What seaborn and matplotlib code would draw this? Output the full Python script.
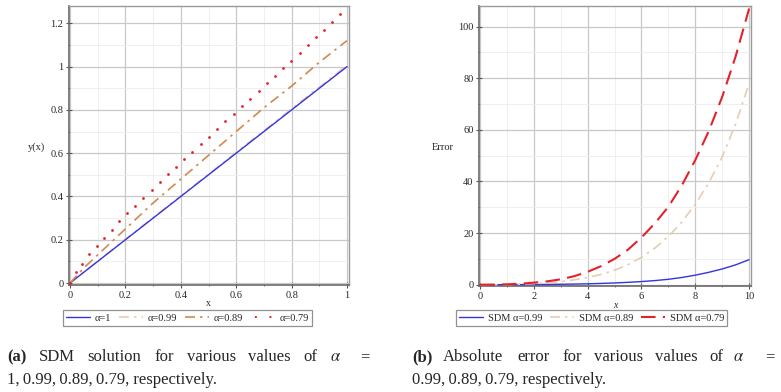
import matplotlib
matplotlib.use('Agg')
import matplotlib.pyplot as plt
from matplotlib.lines import Line2D
from matplotlib.ticker import MultipleLocator, FuncFormatter
import seaborn as sns

# ============================================================
# Data
# ============================================================
# (a) SDM solution y(x)
x_sol = [0, 0.05, 0.1, 0.2, 0.3, 0.4, 0.5, 0.6, 0.7, 0.8, 0.9, 1.0]
y_a100 = [0, 0.05, 0.1, 0.2, 0.3, 0.4, 0.5, 0.6, 0.7, 0.8, 0.9, 1.0]
y_a099 = [0, 0.051, 0.101, 0.202, 0.302, 0.403, 0.503, 0.604, 0.704, 0.805, 0.905, 1.006]
y_a089 = [0, 0.07, 0.13, 0.25, 0.37, 0.48, 0.59, 0.70, 0.81, 0.91, 1.02, 1.12]

x_dots = [0.0, 0.022, 0.044, 0.069, 0.096, 0.124, 0.150, 0.178, 0.207, 0.236, 0.264,
          0.296, 0.325, 0.353, 0.382, 0.412, 0.442, 0.472, 0.502, 0.531, 0.561,
          0.591, 0.620, 0.651, 0.681, 0.710, 0.740, 0.769, 0.799, 0.829, 0.858,
          0.887, 0.917, 0.946, 0.976]
y_a079 = [0.0, 0.051, 0.089, 0.133, 0.171, 0.210, 0.247, 0.287, 0.324, 0.358, 0.395,
          0.429, 0.466, 0.503, 0.537, 0.571, 0.605, 0.642, 0.676, 0.713, 0.747,
          0.781, 0.818, 0.851, 0.888, 0.922, 0.956, 0.992, 1.027, 1.061, 1.098,
          1.135, 1.169, 1.206, 1.243]

# (b) absolute error
x_err = [0, 0.5, 1, 1.5, 2, 2.5, 3, 3.5, 4, 4.5, 5, 5.5, 6, 6.5, 7, 7.5, 8, 8.5, 9, 9.5, 10]
err_099 = [0, 0.0, 0.02, 0.04, 0.07, 0.11, 0.17, 0.25, 0.35, 0.5, 0.68, 0.92, 1.22,
           1.6, 2.1, 2.8, 3.7, 4.8, 6.1, 7.7, 9.7]
err_089 = [0, 0.02, 0.07, 0.2, 0.4, 0.7, 1.2, 1.9, 2.8, 4.0, 5.6, 7.8, 10.6,
           14.2, 18.7, 24.3, 31.2, 39.5, 49.5, 62.3, 78.0]
err_079 = [0, 0.05, 0.15, 0.4, 0.8, 1.3, 2.1, 3.3, 5.0, 7.2, 10.0, 13.6, 18.3,
           23.8, 30.2, 38.5, 48.3, 59.5, 72.8, 88.5, 107.0]

labels_a = ['α=1', 'α=0.99', 'α=0.89', 'α=0.79']
labels_b = ['SDM α=0.99', 'SDM α=0.89', 'SDM α=0.79']

# ============================================================
# Style
# ============================================================
BLUE = '#3434dc'
TAN = '#e6cdb0'
BROWN = '#cf8a4f'
RED = '#e2232b'
DASHDOT = (0, (6, 3, 1.5, 3))
DASHED = (0, (7, 3.5))

sns.set_theme(style='white')
plt.rcParams['font.family'] = ['Liberation Serif', 'DejaVu Serif']
plt.rcParams['mathtext.fontset'] = 'stix'

W, H = 781, 392


def px(x, y):
    return x / W, 1 - y / H


fig = plt.figure(figsize=(W / 100, H / 100), dpi=100)
ax1 = fig.add_axes([69 / W, 1 - 285 / H, 280 / W, 279 / H])
ax2 = fig.add_axes([479 / W, 1 - 286 / H, 272 / W, 280 / H])

# ---- (a) ----
sns.lineplot(x=x_sol, y=y_a099, ax=ax1, color=TAN, lw=1.2, linestyle=DASHDOT, zorder=2)
sns.lineplot(x=x_sol, y=y_a100, ax=ax1, color=BLUE, lw=1.0, zorder=3)
sns.lineplot(x=x_sol, y=y_a089, ax=ax1, color=BROWN, lw=1.2, linestyle=DASHDOT, zorder=3)
sns.scatterplot(x=x_dots, y=y_a079, ax=ax1, color=RED, s=4, linewidth=0, zorder=4)
ax1.set_xlim(-0.0036, 1.0072)
ax1.set_ylim(-0.009, 1.28)
ax1.xaxis.set_major_locator(MultipleLocator(0.2))
ax1.xaxis.set_minor_locator(MultipleLocator(0.1))
ax1.yaxis.set_major_locator(MultipleLocator(0.2))
ax1.yaxis.set_minor_locator(MultipleLocator(0.1))

# ---- (b) ----
sns.lineplot(x=x_err, y=err_099, ax=ax2, color=BLUE, lw=1.0, zorder=3)
sns.lineplot(x=x_err, y=err_089, ax=ax2, color=TAN, lw=1.2, linestyle=DASHDOT, zorder=3)
sns.lineplot(x=x_err, y=err_079, ax=ax2, color=RED, lw=1.5, linestyle=DASHED, zorder=4)
ax2.set_xlim(-0.037, 10.07)
ax2.set_ylim(-0.5, 108)
ax2.xaxis.set_major_locator(MultipleLocator(2))
ax2.xaxis.set_minor_locator(MultipleLocator(1))
ax2.yaxis.set_major_locator(MultipleLocator(20))
ax2.yaxis.set_minor_locator(MultipleLocator(10))

fmt = FuncFormatter(lambda v, p: f'{v:g}')
for ax in (ax1, ax2):
    ax.xaxis.set_major_formatter(fmt)
    ax.yaxis.set_major_formatter(fmt)
    ax.set_xlabel('')
    ax.set_ylabel('')
    ax.set_axisbelow(True)
    ax.grid(which='major', color='#c9c9c9', lw=0.9)
    ax.grid(which='minor', color='#ececec', lw=0.6)
    ax.tick_params(which='major', direction='inout', length=4, width=0.8,
                   color='#555555', labelsize=7.5, pad=2, left=True, bottom=True)
    ax.tick_params(which='minor', direction='inout', length=2, width=0.6,
                   color='#555555', left=True, bottom=True)
    for s in ('left', 'bottom'):
        ax.spines[s].set_color('#6a6a6a')
        ax.spines[s].set_linewidth(1.2)
    for s in ('top', 'right'):
        ax.spines[s].set_color('#9a9a9a')
        ax.spines[s].set_linewidth(1.0)
    if ax.get_legend() is not None:
        ax.get_legend().remove()

# axis labels
fig.text(*px(36, 147), 'y(x)', fontsize=7.5, ha='center', va='center')
fig.text(*px(208, 304), 'x', fontsize=7, ha='center', va='center')
fig.text(*px(443, 148), 'Error', fontsize=7.5, ha='center', va='center')
fig.text(*px(615, 305), 'x', fontsize=7, ha='center', va='center', style='italic')

# legends
h_a = [Line2D([], [], color=BLUE, lw=1.0),
       Line2D([], [], color=TAN, lw=1.2, linestyle=DASHDOT),
       Line2D([], [], color=BROWN, lw=1.2, linestyle=DASHDOT),
       Line2D([], [], color=RED, lw=1.4, linestyle=(-2, (1, 6.5)))]
h_b = [Line2D([], [], color=BLUE, lw=1.0),
       Line2D([], [], color=TAN, lw=1.2, linestyle=DASHDOT),
       Line2D([], [], color=RED, lw=1.5, linestyle=DASHED)]
for handles, labels, cx in ((h_a, labels_a, 187.5), (h_b, labels_b, 591.5)):
    leg = fig.legend(handles, labels, loc='center', bbox_to_anchor=px(cx, 318),
                     ncol=len(labels), fontsize=7.5, frameon=True, fancybox=False,
                     handlelength=2.3, handletextpad=0.5, columnspacing=0.7,
                     borderpad=0.3, borderaxespad=0)
    leg.get_frame().set_edgecolor('#777777')
    leg.get_frame().set_linewidth(0.9)

# captions (justified words)
cap_kw = dict(fontsize=12, va='baseline', ha='left')
words_a = [(7, '(a)', 'bold'), (39, 'SDM', None), (87, 'solution', None), (154, 'for', None),
           (187, 'various', None), (248, 'values', None), (303, 'of', None),
           (330, r'$\alpha$', None), (360, '=', None)]
words_b = [(412, '(b)', 'bold'), (443, 'Absolute', None), (517, 'error', None),
           (562, 'for', None), (594, 'various', None), (655, 'values', None),
           (709, 'of', None), (733, r'$\alpha$', None), (765, '=', None)]
for xw, w, fw in words_a + words_b:
    fig.text(*px(xw, 361), w, fontweight=fw or 'normal', **cap_kw)
fig.text(*px(7, 384), '1,\u20090.99,\u20090.89,\u20090.79, respectively.', **cap_kw)
fig.text(*px(412, 384), '0.99,\u20090.89,\u20090.79, respectively.', **cap_kw)

plt.savefig('out.png', dpi=100)
plt.close()
